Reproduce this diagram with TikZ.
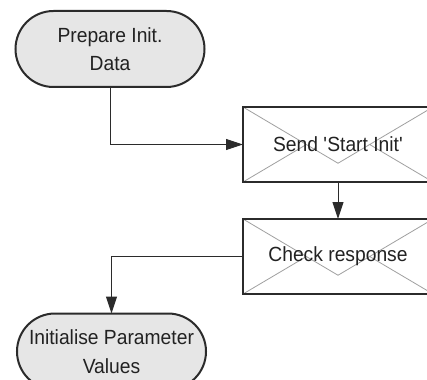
\documentclass[tikz,border=0pt]{standalone}
\usepackage{fontspec}
\setmainfont{Liberation Sans}[FakeStretch=0.94]
\usetikzlibrary{arrows.meta,calc}
\definecolor{linec}{HTML}{2B2B2B}
\definecolor{termfill}{HTML}{E6E6E6}
\definecolor{envc}{HTML}{A0A0A0}
\definecolor{txt}{HTML}{222222}
\begin{document}
\begin{tikzpicture}[x=1pt,y=-1pt,
  lbl/.style={align=center, font=\fontsize{20.5}{28.5}\selectfont, text=txt},
  term/.style={lbl, draw=linec, line width=2pt, fill=termfill, rounded corners=38pt,
    minimum width=189pt, minimum height=76pt, inner sep=0pt, outer sep=0pt},
  envbox/.style={lbl, draw=linec, line width=2.5pt, fill=white,
    minimum width=190pt, minimum height=75pt, inner sep=0pt, outer sep=0pt,
    path picture={
      \coordinate (v) at ($(path picture bounding box.north)!0.75!(path picture bounding box.south)$);
      \draw[envc, line width=0.8pt]
        (path picture bounding box.north west) -- (v) -- (path picture bounding box.north east)
        (path picture bounding box.south west) -- ($(path picture bounding box.north west)!0.667!(v)$)
        (path picture bounding box.south east) -- ($(path picture bounding box.north east)!0.667!(v)$);
    }},
  conn/.style={draw=linec, line width=1pt, -{Triangle[length=17pt,width=11pt]}}]
\useasboundingbox (0,0) rectangle (427,379);
\node[term] (prep) at (110,49) {Prepare Init.\\Data};
\node[envbox] (send) at (338,144.5) {Send \textquotesingle Start Init\textquotesingle};
\node[envbox] (check) at (338,256.5) {Check response};
\node[term] (init) at (111.5,351.5) {Initialise Parameter\\Values};
\draw[conn] (prep.south) |- (send.west);
\draw[conn] (send.south) -- (check.north);
\draw[conn] (check.west) -| (init.north);
\end{tikzpicture}
\end{document}
